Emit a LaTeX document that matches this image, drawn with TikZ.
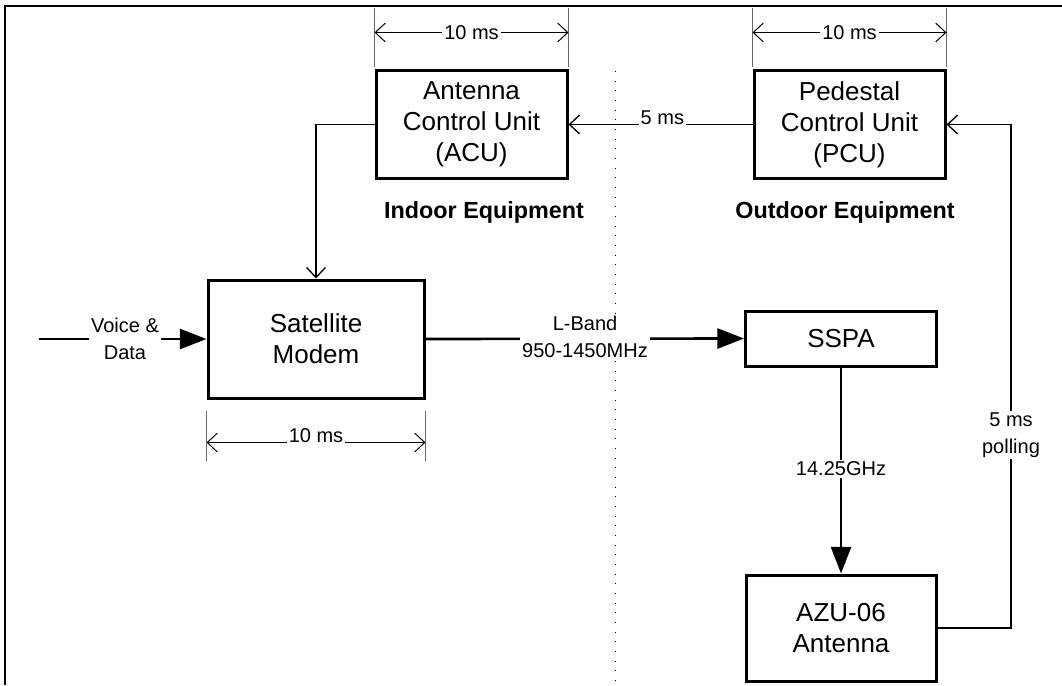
\documentclass[tikz,border=0pt]{standalone}
\usepackage{fontspec}
\setmainfont{Liberation Sans}
\usetikzlibrary{arrows.meta}
\tikzset{every picture/.style={line width=0.75pt}}
\tikzset{
  unitbox/.style={draw, line width=2.25pt, minimum width=143.25pt, minimum height=80.25pt,
    inner sep=0pt, align=center, font=\fontsize{19.5}{23.25}\selectfont},
  sigline/.style={line width=2pt, -{Triangle[length=20pt,width=15pt]}},
  ctlline/.style={line width=1pt, -{Straight Barb[length=7.5pt,width=14pt]}},
  dimline/.style={line width=0.75pt,
    {Straight Barb[length=7.5pt,width=14pt]}-{Straight Barb[length=7.5pt,width=14pt]}},
  dimtick/.style={draw=black!60, line width=0.75pt},
  lbl/.style={fill=white, inner sep=1.5pt, align=center, font=\fontsize{15}{20}\selectfont},
  sidelbl/.style={font=\fontsize{17.5}{21}\selectfont\bfseries},
}

\begin{document}
\begin{tikzpicture}[x=0.75pt,y=0.75pt,yscale=-1,xscale=1]
\useasboundingbox (0,0) rectangle (1062,685);

%Frame
\draw [line width=2pt] (5,685) -- (5,6) -- (1062,6) ;

%Indoor / outdoor divider
\draw [line width=0.75pt, dash pattern=on 0.75pt off 6.5pt] (615,71) -- (615,685) ;

%Units
\node [unitbox] (acu) at (471.5,124.5) {Antenna\\Control Unit\\(ACU)};
\node [unitbox] (pcu) at (849.5,124.5) {Pedestal\\Control Unit\\(PCU)};
\node [unitbox, minimum width=162pt, minimum height=88.5pt] (modem) at (316,339) {Satellite\\Modem};
\node [unitbox, minimum height=41.25pt] (sspa) at (841,338.5) {SSPA};
\node [unitbox, minimum width=142.5pt, minimum height=79.5pt] (azu) at (841,628) {AZU-06\\Antenna};

%Free ends
\coordinate (vin) at (39,339);
\coordinate (poll) at (1011,628);

%Control lines
\draw [ctlline] (acu.west) -| (modem.north) ;
\draw [ctlline] (pcu.west) -- (acu.east) node [lbl, pos=0.49, anchor=base] {5 ms} ;
\draw [ctlline] (azu.east) -- (poll) |- (pcu.east) ;
\node [lbl] (polllbl) at (1011,435) {5 ms\\polling};

%Signal lines
\draw [sigline] (vin) -- (modem.west) ;
\node [lbl] (vdlbl) at (125,339) {Voice \&\\Data};
\draw [sigline] (modem.east) -- (sspa.west) ;
\node [lbl] (lbandlbl) at (585,337) {L-Band\\950-1450MHz};
\draw [sigline] (sspa.south) -- (azu.north) ;
\node [lbl] (ghzlbl) at (841,469) {14.25GHz};

%Timing of the ACU
\draw [dimtick] ([yshift=-1.5pt]acu.north west) -- ([yshift=-45.75pt]acu.north west) ;
\draw [dimtick] ([yshift=-1.5pt]acu.north east) -- ([yshift=-45.75pt]acu.north east) ;
\draw [dimline] ([yshift=-27.75pt]acu.north west) -- ([yshift=-27.75pt]acu.north east) node [lbl, midway] {10 ms} ;

%Timing of the PCU
\draw [dimtick] ([yshift=-1.5pt]pcu.north west) -- ([yshift=-45.75pt]pcu.north west) ;
\draw [dimtick] ([yshift=-1.5pt]pcu.north east) -- ([yshift=-45.75pt]pcu.north east) ;
\draw [dimline] ([yshift=-27.75pt]pcu.north west) -- ([yshift=-27.75pt]pcu.north east) node [lbl, midway] {10 ms} ;

%Timing of the modem
\draw [dimtick] ([yshift=8.25pt]modem.south west) -- ([yshift=45.75pt]modem.south west) ;
\draw [dimtick] ([yshift=8.25pt]modem.south east) -- ([yshift=45.75pt]modem.south east) ;
\draw [dimline] ([yshift=32.25pt]modem.south west) -- ([yshift=32.25pt]modem.south east) node [lbl, midway, anchor=base] {10 ms} ;

%Equipment groups
\node [sidelbl] (indoor) at (484,212) {Indoor Equipment};
\node [sidelbl] (outdoor) at (845,212) {Outdoor Equipment};

\end{tikzpicture}
\end{document}
